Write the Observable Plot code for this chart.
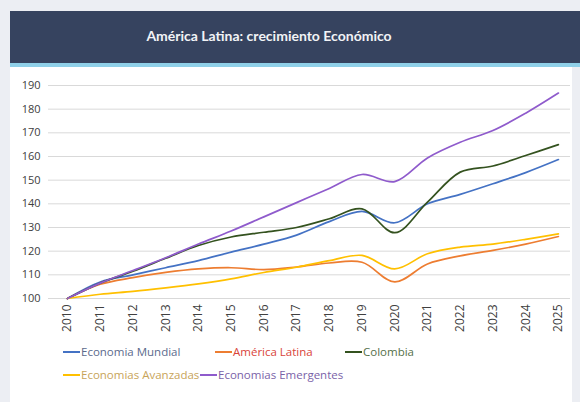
<!DOCTYPE html>
<html>
<head>
<meta charset="utf-8">
<script src="https://cdn.jsdelivr.net/npm/d3@7"></script>
<script src="https://cdn.jsdelivr.net/npm/@observablehq/plot@0.6"></script>
<style>
  html, body { margin: 0; padding: 0; }
  body { width: 580px; height: 402px; background: #eceef3; position: relative; overflow: hidden; font-family: "Open Sans", sans-serif; }
  #panel { position: absolute; left: 10px; top: 11px; width: 562px; height: 391px; background: #ffffff; }
  #header { position: absolute; left: 10px; top: 11px; width: 518px; padding-right: 52px; height: 52px; background: #36435f; color: #f2f3f6;
            font-family: Lato, sans-serif; font-weight: 700; font-size: 14px; line-height: 50px; text-align: center; }
  #strip { position: absolute; left: 10px; top: 63px; width: 570px; height: 4px; background: #8fd0e8; }
  #chart { position: absolute; left: 0; top: 67px; }
  .leg { position: absolute; font-size: 11.5px; font-family: "Open Sans", sans-serif; white-space: nowrap; line-height: 14px; }
  .leg span.sw { display: inline-block; width: 17px; height: 2px; vertical-align: middle; margin-right: 1px; position: relative; top: -1px; }
</style>
</head>
<body>
<div id="panel"></div>
<div id="header">América Latina: crecimiento Económico</div>
<div id="strip"></div>
<div id="chart"></div>
<div id="legend"></div>
<script>
const years = [2010, 2011, 2012, 2013, 2014, 2015, 2016, 2017, 2018, 2019, 2020, 2021, 2022, 2023, 2024, 2025];
const seriesNames = ["Economia Mundial", "América Latina", "Colombia", "Economias Avanzadas", "Economias Emergentes"];
const mundial    = [100, 107.0, 110.0, 113.0, 116.0, 119.6, 123.0, 126.8, 132.5, 136.8, 132.0, 140.0, 144.0, 148.5, 153.2, 158.7];
const latina     = [100, 106.0, 108.8, 111.0, 112.5, 113.0, 112.2, 113.3, 115.0, 115.3, 107.0, 114.6, 118.0, 120.3, 123.0, 126.2];
const colombia   = [100, 106.5, 111.5, 117.0, 122.4, 126.0, 128.0, 130.0, 133.7, 137.9, 127.8, 140.7, 153.4, 156.0, 160.4, 165.0];
const avanzadas  = [100, 101.8, 103.0, 104.5, 106.2, 108.3, 111.0, 113.2, 116.0, 118.2, 112.5, 118.9, 121.7, 123.0, 125.0, 127.3];
const emergentes = [100, 106.5, 111.8, 117.2, 123.0, 128.5, 134.5, 140.5, 146.5, 152.4, 149.4, 159.4, 166.0, 171.0, 178.3, 186.8];
const lineColors = ["#4472c4", "#ed7d31", "#34521f", "#ffc000", "#8f5bcc"];
const textColors = ["#5b6a8c", "#d9443a", "#55704a", "#c8a45a", "#7a62a8"];
const yTicks = [100, 110, 120, 130, 140, 150, 160, 170, 180, 190];

const valuesList = [mundial, latina, colombia, avanzadas, emergentes];
const data = [];
seriesNames.forEach((s, i) => years.forEach((y, j) => data.push({serie: s, year: y, value: valuesList[i][j]})));

const chart = Plot.plot({
  width: 580,
  height: 273,
  marginLeft: 48,
  marginRight: 10,
  marginTop: 18,
  marginBottom: 42,
  style: {fontFamily: "'Open Sans', sans-serif", fontSize: "11px", color: "#404040", background: "transparent"},
  x: {domain: [2009.42, 2025.37], label: null},
  y: {domain: [100, 190], label: null},
  color: {domain: seriesNames, range: lineColors},
  marks: [
    Plot.ruleY(yTicks, {stroke: "#d9d9d9", strokeWidth: 1, strokeOpacity: 1}),
    Plot.axisY({ticks: yTicks, tickSize: 0, tickPadding: 8, label: null, fontSize: 11}),
    Plot.axisX({ticks: years, tickFormat: d => String(d), tickRotate: -90, tickSize: 0, tickPadding: 6, label: null, fontSize: 12}),
    Plot.line(data, {x: "year", y: "value", z: "serie", stroke: "serie", strokeWidth: 1.7, curve: "catmull-rom"})
  ]
});
document.getElementById("chart").appendChild(chart);

const legendPos = [[63, 345], [215, 345], [345, 345], [63, 368], [200, 368]];
const leg = document.getElementById("legend");
seriesNames.forEach((s, i) => {
  const d = document.createElement("div");
  d.className = "leg";
  d.style.left = legendPos[i][0] + "px";
  d.style.top = legendPos[i][1] + "px";
  d.style.color = textColors[i];
  d.innerHTML = `<span class="sw" style="background:${lineColors[i]}"></span>${s}`;
  leg.appendChild(d);
});
</script>
</body>
</html>
